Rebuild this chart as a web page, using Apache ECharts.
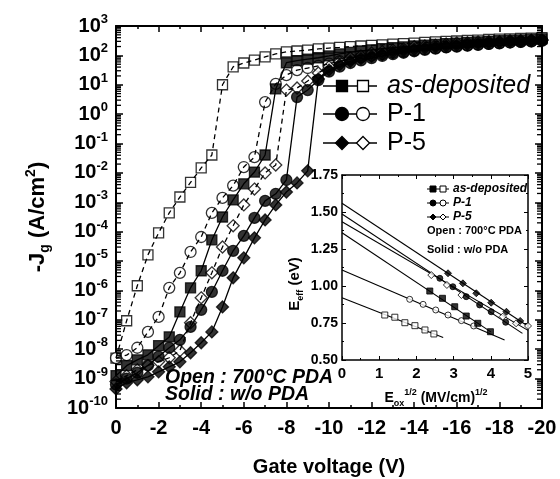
<!DOCTYPE html>
<html>
<head>
<meta charset="utf-8">
<script src="https://cdn.jsdelivr.net/npm/echarts@6/dist/echarts.min.js"></script>
<style>
html,body{margin:0;padding:0;background:#fff}
#chart{width:560px;height:479px}
</style>
</head>
<body>
<div id="chart"></div>
<script>
var FONT = '"Liberation Sans", Arial, sans-serif';

// gate voltage steps (V)
var gateVoltage = [0,-0.5,-1,-1.5,-2,-2.5,-3,-3.5,-4,-4.5,-5,-5.5,-6,-6.5,-7,-7.5,-8,-8.5,-9,-9.5,
  -10,-10.5,-11,-11.5,-12,-12.5,-13,-13.5,-14,-14.5,-15,-15.5,-16,-16.5,-17,-17.5,-18,-18.5,-19,-19.5,-20];

// log10(-Jg)
var asDepSolidLog = [-8.9,-8.56,-8.36,-8.19,-7.88,-7.58,-6.73,-5.91,-5.33,-4.28,-3.5,-2.92,-2.37,-1.97,-1.39,0.86,1.75,1.82,1.87,1.92,
  1.98,2.05,2.1,2.15,2.19,2.23,2.26,2.29,2.32,2.35,2.37,2.4,2.42,2.44,2.46,2.48,2.5,2.52,2.53,2.55,2.56];
var asDepOpenLog = [-8.3,-7.03,-5.84,-4.79,-4.04,-3.36,-2.82,-2.32,-1.83,-1.39,1.0,1.61,1.74,1.84,1.95,2.05,2.12,2.15,2.18,2.22,
  2.25,2.27,2.3,2.32,2.34,2.36,2.38,2.4,2.42,2.44,2.46,2.48,2.49,2.51,2.52,2.54,2.55,2.56,2.58,2.59,2.6];
var p1SolidLog = [-9.2,-9.0,-8.8,-8.55,-8.25,-7.95,-7.68,-7.24,-6.66,-6.05,-5.33,-4.65,-4.14,-3.53,-2.95,-2.71,-2.24,0.58,0.82,1.16,
  1.45,1.62,1.74,1.83,1.91,1.98,2.04,2.09,2.14,2.19,2.23,2.27,2.3,2.33,2.36,2.39,2.41,2.44,2.46,2.48,2.5];
var p1OpenLog = [-8.3,-8.2,-7.95,-7.41,-6.9,-5.91,-5.4,-4.69,-4.18,-3.36,-2.85,-2.43,-1.8,-1.46,0.41,1.03,1.33,1.5,1.57,1.64,
  1.72,1.8,1.87,1.93,1.99,2.04,2.09,2.13,2.17,2.21,2.25,2.28,2.31,2.34,2.37,2.39,2.42,2.44,2.46,2.48,2.5];
var p5SolidLog = [-9.35,-9.14,-9.04,-8.94,-8.77,-8.6,-8.43,-8.12,-7.78,-7.41,-6.56,-5.57,-4.89,-4.21,-3.6,-3.09,-2.65,-2.34,-1.93,1.2,
  1.5,1.68,1.8,1.89,1.97,2.04,2.1,2.15,2.2,2.24,2.28,2.31,2.34,2.37,2.4,2.42,2.44,2.46,2.48,2.5,2.52];
var p5OpenLog = [-9.1,-8.9,-8.7,-8.55,-8.42,-8.29,-8.05,-7.1,-6.25,-5.4,-4.52,-3.8,-3.09,-2.55,-2.0,-1.73,0.82,0.89,1.13,1.4,
  1.61,1.78,1.91,1.98,2.08,2.13,2.18,2.22,2.3,2.32,2.35,2.39,2.42,2.43,2.46,2.47,2.47,2.5,2.51,2.52,2.52];

// inset: Eeff (eV) vs Eox^1/2
var insetAsDepSolid = [[2.36,0.966],[2.70,0.917],[3.03,0.860],[3.34,0.797],[3.65,0.748],[3.99,0.691]];
var insetAsDepOpen = [[1.15,0.804],[1.42,0.789],[1.69,0.752],[1.96,0.732],[2.23,0.703],[2.47,0.676]];
var insetP1Solid = [[2.63,1.052],[2.98,0.995],[3.34,0.928],[3.70,0.872],[4.01,0.826],[4.40,0.755]];
var insetP1Open = [[1.82,0.910],[2.18,0.876],[2.52,0.838],[2.85,0.804],[3.21,0.766],[3.54,0.730]];
var insetP5Solid = [[2.85,1.086],[3.25,1.018],[3.61,0.951],[4.01,0.887],[4.42,0.826],[4.79,0.764]];
var insetP5Open = [[2.40,1.074],[2.82,1.007],[3.21,0.939],[4.32,0.793],[4.68,0.748],[5.0,0.730]];

// fitted lines (start, end)
var fitAsDepSolid = [[0,1.36],[4.0,0.69]];
var fitAsDepOpen = [[0,0.921],[2.72,0.652]];
var fitP1Solid = [[0,1.486],[4.85,0.68]];
var fitP1Open = [[0,1.108],[4.37,0.635]];
var fitP5Solid = [[0,1.559],[4.95,0.737]];
var fitP5Open = [[0,1.434],[5.0,0.70]];

var legendNames = ['as-deposited', 'P-1', 'P-5'];

var chart = echarts.init(document.getElementById('chart'));

function toPairs(logs) {
  return gateVoltage.map(function (v, i) { return [v, logs[i]]; });
}

var mainGroups = [
  {logs: asDepOpenLog, symbol: 'rect', size: 10, filled: false},
  {logs: p1OpenLog, symbol: 'circle', size: 11, filled: false},
  {logs: p5OpenLog, symbol: 'diamond', size: 12, filled: false},
  {logs: asDepSolidLog, symbol: 'rect', size: 10, filled: true},
  {logs: p1SolidLog, symbol: 'circle', size: 11, filled: true},
  {logs: p5SolidLog, symbol: 'diamond', size: 12, filled: true}
];

var insetGroups = [
  {pts: insetAsDepOpen, fit: fitAsDepOpen, symbol: 'rect', size: 6, filled: false},
  {pts: insetP1Open, fit: fitP1Open, symbol: 'circle', size: 6, filled: false},
  {pts: insetP5Open, fit: fitP5Open, symbol: 'diamond', size: 7, filled: false},
  {pts: insetAsDepSolid, fit: fitAsDepSolid, symbol: 'rect', size: 6, filled: true},
  {pts: insetP1Solid, fit: fitP1Solid, symbol: 'circle', size: 6, filled: true},
  {pts: insetP5Solid, fit: fitP5Solid, symbol: 'diamond', size: 7, filled: true}
];

var series = [];
mainGroups.forEach(function (g) {
  var d = toPairs(g.logs);
  series.push({
    type: 'scatter', xAxisIndex: 0, yAxisIndex: 0, data: d, z: 2,
    symbol: g.symbol, symbolSize: g.size,
    itemStyle: {color: g.filled ? '#000' : '#fff', borderColor: '#000', borderWidth: 1.3}
  });
  series.push({
    type: 'line', xAxisIndex: 0, yAxisIndex: 0, data: d, z: 3,
    showSymbol: false, symbol: 'none',
    lineStyle: {color: '#000', width: 1.3, type: g.filled ? 'solid' : [5, 4]}
  });
});
insetGroups.forEach(function (g) {
  series.push({
    type: 'line', xAxisIndex: 2, yAxisIndex: 2, data: g.fit, z: 3,
    showSymbol: false, symbol: 'none', lineStyle: {color: '#000', width: 1.1}
  });
  series.push({
    type: 'scatter', xAxisIndex: 2, yAxisIndex: 2, data: g.pts, z: 4,
    symbol: g.symbol, symbolSize: g.size,
    itemStyle: {color: g.filled ? '#000' : '#fff', borderColor: '#000', borderWidth: 1}
  });
});

// log minor ticks (2..9 of each decade) on both side axes
var minorTickVals = [];
for (var e = -10; e < 3; e++) {
  for (var k = 2; k <= 9; k++) minorTickVals.push([0, e + Math.log10(k)]);
}
series.push({
  type: 'custom', xAxisIndex: 0, yAxisIndex: 0, silent: true, z: 5, clip: false,
  data: minorTickVals, encode: {x: 0, y: 1},
  renderItem: function (params, api) {
    var l = api.coord([0, api.value(1)]);
    var r = api.coord([-20, api.value(1)]);
    return {type: 'group', children: [
      {type: 'line', shape: {x1: l[0], y1: l[1], x2: l[0] + 5, y2: l[1]}, style: {stroke: '#000', lineWidth: 1.3}},
      {type: 'line', shape: {x1: r[0], y1: r[1], x2: r[0] - 5, y2: r[1]}, style: {stroke: '#000', lineWidth: 1.3}}
    ]};
  }
});

var axisLineStyle = {color: '#000', width: 2};
var boldLabel = {color: '#000', fontFamily: FONT, fontWeight: 'bold'};

function legendGlyph(kind, cx, cy, s, filled, lw) {
  var style = {fill: filled ? '#000' : '#fff', stroke: '#000', lineWidth: lw};
  if (kind === 'rect') return {type: 'rect', shape: {x: cx - s / 2, y: cy - s / 2, width: s, height: s}, style: style, z: 20};
  if (kind === 'circle') return {type: 'circle', shape: {cx: cx, cy: cy, r: s / 2}, style: style, z: 20};
  return {type: 'polygon', shape: {points: [[cx, cy - s / 2], [cx + s / 2, cy], [cx, cy + s / 2], [cx - s / 2, cy]]}, style: style, z: 20};
}

var graphics = [];
var kinds = ['rect', 'circle', 'diamond'];
var mainLegendY = [86, 114, 143];
legendNames.forEach(function (n, i) {
  var y = mainLegendY[i];
  var s = i === 0 ? 11 : 13;
  graphics.push({type: 'line', shape: {x1: 323, y1: y, x2: 377, y2: y}, style: {stroke: '#000', lineWidth: 1.5}, z: 19});
  graphics.push(legendGlyph(kinds[i], 342, y, s, true, 1.3));
  graphics.push(legendGlyph(kinds[i], 363, y, s, false, 1.3));
  graphics.push({type: 'text', x: 387, y: y, z: 20, style: {text: n, fill: '#000', fontFamily: FONT,
    fontSize: 25, fontStyle: i === 0 ? 'italic' : 'normal', verticalAlign: 'middle'}});
});
var insetLegendY = [189, 203, 217];
legendNames.forEach(function (n, i) {
  var y = insetLegendY[i];
  graphics.push({type: 'line', shape: {x1: 427, y1: y, x2: 449, y2: y}, style: {stroke: '#000', lineWidth: 1}, z: 19});
  graphics.push(legendGlyph(kinds[i], 433, y, 6, true, 1));
  graphics.push(legendGlyph(kinds[i], 443, y, 6, false, 1));
  graphics.push({type: 'text', x: 453, y: y, z: 20, style: {text: n, fill: '#000', fontFamily: FONT,
    fontSize: 12, fontWeight: 'bold', fontStyle: 'italic', verticalAlign: 'middle'}});
});
graphics.push({type: 'text', x: 427, y: 231, z: 20, style: {text: 'Open : 700\u00b0C PDA', fill: '#000', fontFamily: FONT, fontSize: 11, fontWeight: 'bold', verticalAlign: 'middle'}});
graphics.push({type: 'text', x: 427, y: 250, z: 20, style: {text: 'Solid : w/o PDA', fill: '#000', fontFamily: FONT, fontSize: 11, fontWeight: 'bold', verticalAlign: 'middle'}});
graphics.push({type: 'text', x: 165, y: 378, z: 20, style: {text: 'Open : 700\u00b0C PDA', fill: '#000', fontFamily: FONT, fontSize: 19.5, fontWeight: 'bold', fontStyle: 'italic', verticalAlign: 'middle'}});
graphics.push({type: 'text', x: 165, y: 395, z: 20, style: {text: 'Solid : w/o PDA', fill: '#000', fontFamily: FONT, fontSize: 19.5, fontWeight: 'bold', fontStyle: 'italic', verticalAlign: 'middle'}});
// axis titles
graphics.push({type: 'text', x: 329, y: 467, z: 20, style: {text: 'Gate voltage (V)', fill: '#000', fontFamily: FONT, fontSize: 20, fontWeight: 'bold', align: 'center', verticalAlign: 'middle'}});
graphics.push({type: 'text', x: 38, y: 217, rotation: Math.PI / 2, z: 20, style: {
  text: '{t|-J}{sub|g}{t| (A/cm}{sup|2}{t|)}', align: 'center', verticalAlign: 'middle',
  rich: {
    t: {fontFamily: FONT, fontSize: 22, fontWeight: 'bold', fill: '#000', lineHeight: 28},
    sub: {fontFamily: FONT, fontSize: 14, fontWeight: 'bold', fill: '#000', verticalAlign: 'bottom', lineHeight: 14},
    sup: {fontFamily: FONT, fontSize: 14, fontWeight: 'bold', fill: '#000', verticalAlign: 'top', lineHeight: 14}
  }}});
graphics.push({type: 'text', x: 295, y: 284, rotation: Math.PI / 2, z: 20, style: {
  text: '{t|E}{sub|eff}{t| (eV)}', align: 'center', verticalAlign: 'middle',
  rich: {
    t: {fontFamily: FONT, fontSize: 15, fontWeight: 'bold', fill: '#000', lineHeight: 20},
    sub: {fontFamily: FONT, fontSize: 9, fontWeight: 'bold', fill: '#000', verticalAlign: 'bottom', lineHeight: 9}
  }}});
graphics.push({type: 'text', x: 436, y: 398, z: 20, style: {
  text: '{t|E}{sub|ox}{sup|1/2}{t| (MV/cm)}{sup|1/2}', align: 'center', verticalAlign: 'middle',
  rich: {
    t: {fontFamily: FONT, fontSize: 14, fontWeight: 'bold', fill: '#000', lineHeight: 20},
    sub: {fontFamily: FONT, fontSize: 9, fontWeight: 'bold', fill: '#000', verticalAlign: 'bottom', lineHeight: 9},
    sup: {fontFamily: FONT, fontSize: 9, fontWeight: 'bold', fill: '#000', verticalAlign: 'top', lineHeight: 9}
  }}});

var option = {
  animation: false,
  backgroundColor: '#fff',
  grid: [
    {left: 116, top: 26, width: 426, height: 382},
    {left: 342, top: 175, width: 186, height: 185, show: true, backgroundColor: '#fff', borderWidth: 0, z: 3}
  ],
  xAxis: [
    {gridIndex: 0, type: 'value', min: -20, max: 0, interval: 2, inverse: true, position: 'bottom',
      axisLine: {onZero: false, lineStyle: axisLineStyle},
      axisTick: {inside: true, length: 6, lineStyle: {width: 1.5, color: '#000'}},
      minorTick: {show: true, splitNumber: 2, length: 3, lineStyle: {width: 1.5, color: '#000'}},
      splitLine: {show: false},
      axisLabel: Object.assign({fontSize: 20, margin: 10}, boldLabel)},
    {gridIndex: 0, type: 'value', min: -20, max: 0, interval: 2, inverse: true, position: 'top',
      axisLine: {onZero: false, lineStyle: axisLineStyle},
      axisTick: {inside: true, length: 6, lineStyle: {width: 1.5, color: '#000'}},
      minorTick: {show: true, splitNumber: 2, length: 3, lineStyle: {width: 1.5, color: '#000'}},
      splitLine: {show: false}, axisLabel: {show: false}},
    {gridIndex: 1, type: 'value', min: 0, max: 5, interval: 1, position: 'bottom', z: 4,
      axisLine: {onZero: false, lineStyle: {color: '#000', width: 1.5}},
      axisTick: {inside: true, length: 4, lineStyle: {width: 1, color: '#000'}},
      minorTick: {show: true, splitNumber: 2, length: 2, lineStyle: {width: 1, color: '#000'}},
      splitLine: {show: false},
      axisLabel: Object.assign({fontSize: 15, margin: 6}, boldLabel)},
    {gridIndex: 1, type: 'value', min: 0, max: 5, interval: 1, position: 'top', z: 4,
      axisLine: {onZero: false, lineStyle: {color: '#000', width: 1.5}},
      axisTick: {inside: true, length: 4, lineStyle: {width: 1, color: '#000'}},
      minorTick: {show: true, splitNumber: 2, length: 2, lineStyle: {width: 1, color: '#000'}},
      splitLine: {show: false}, axisLabel: {show: false}}
  ],
  yAxis: [
    {gridIndex: 0, type: 'value', min: -10, max: 3, interval: 1, position: 'left',
      axisLine: {onZero: false, lineStyle: axisLineStyle},
      axisTick: {inside: true, length: 7, lineStyle: {width: 1.5, color: '#000'}},
      splitLine: {show: false},
      axisLabel: {margin: 8, formatter: function (v) { return '{b|10}{s|' + v + '}'; },
        rich: {
          b: {fontFamily: FONT, fontSize: 20, fontWeight: 'bold', color: '#000', lineHeight: 26},
          s: {fontFamily: FONT, fontSize: 13, fontWeight: 'bold', color: '#000', verticalAlign: 'top', lineHeight: 14}
        }}},
    {gridIndex: 0, type: 'value', min: -10, max: 3, interval: 1, position: 'right',
      axisLine: {onZero: false, lineStyle: axisLineStyle},
      axisTick: {inside: true, length: 7, lineStyle: {width: 1.5, color: '#000'}},
      splitLine: {show: false}, axisLabel: {show: false}},
    {gridIndex: 1, type: 'value', min: 0.5, max: 1.75, interval: 0.25, position: 'left', z: 4,
      axisLine: {onZero: false, lineStyle: {color: '#000', width: 1.5}},
      axisTick: {inside: true, length: 4, lineStyle: {width: 1, color: '#000'}},
      minorTick: {show: true, splitNumber: 2, length: 2, lineStyle: {width: 1, color: '#000'}},
      splitLine: {show: false},
      axisLabel: Object.assign({fontSize: 14, margin: 4, formatter: function (v) { return v.toFixed(2); }}, boldLabel)},
    {gridIndex: 1, type: 'value', min: 0.5, max: 1.75, interval: 0.25, position: 'right', z: 4,
      axisLine: {onZero: false, lineStyle: {color: '#000', width: 1.5}},
      axisTick: {inside: true, length: 4, lineStyle: {width: 1, color: '#000'}},
      minorTick: {show: true, splitNumber: 2, length: 2, lineStyle: {width: 1, color: '#000'}},
      splitLine: {show: false}, axisLabel: {show: false}}
  ],
  series: series,
  graphic: graphics
};

chart.setOption(option);
</script>
</body>
</html>
